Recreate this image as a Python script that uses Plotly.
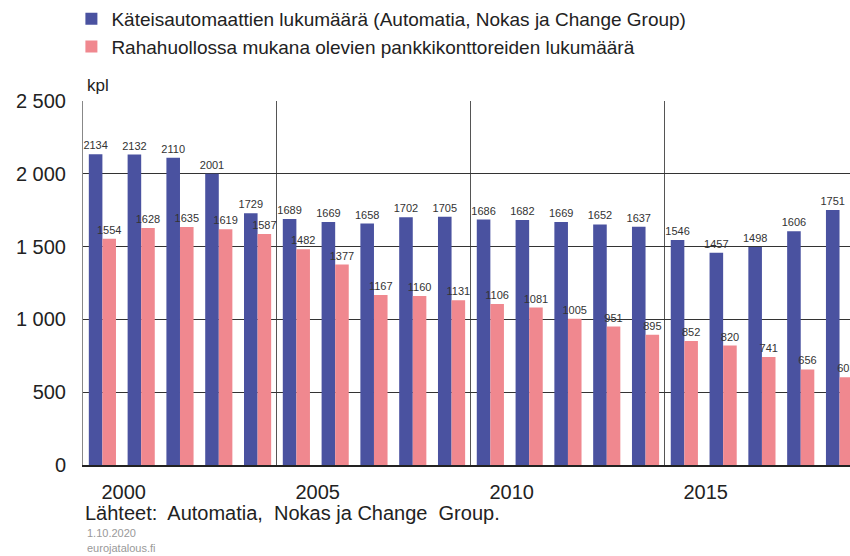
import plotly.graph_objects as go

years = list(range(2000, 2020))
atm_counts = [2134, 2132, 2110, 2001, 1729, 1689, 1669, 1658, 1702, 1705,
              1686, 1682, 1669, 1652, 1637, 1546, 1457, 1498, 1606, 1751]
branch_counts = [1554, 1628, 1635, 1619, 1587, 1482, 1377, 1167, 1160, 1131,
                 1106, 1081, 1005, 951, 895, 852, 820, 741, 656, 603]
series_names = ["Käteisautomaattien lukumäärä (Automatia, Nokas ja Change Group)",
                "Rahahuollossa mukana olevien pankkikonttoreiden lukumäärä"]
x_label_years = [2000, 2005, 2010, 2015]
y_ticks = [0, 500, 1000, 1500, 2000, 2500]
y_tick_text = ["0", "500", "1 000", "1 500", "2 000", "2 500"]

BLUE = "#4A52A0"
PINK = "#F0888F"
FONT = "Liberation Sans, Arial, sans-serif"

fig = go.Figure()
fig.add_trace(go.Bar(x=years, y=atm_counts, name=series_names[0], marker_color=BLUE,
                     marker_line_width=0, text=[str(v) for v in atm_counts],
                     textposition="outside", cliponaxis=False, constraintext="none",
                     textfont=dict(size=11, color="#333333", family=FONT)))
fig.add_trace(go.Bar(x=years, y=branch_counts, name=series_names[1], marker_color=PINK,
                     marker_line_width=0, text=[str(v) for v in branch_counts],
                     textposition="outside", cliponaxis=False, constraintext="none",
                     textfont=dict(size=11, color="#333333", family=FONT)))

fig.update_layout(
    width=850, height=556,
    margin=dict(l=83, r=0, t=101, b=91, autoexpand=False),
    paper_bgcolor="white", plot_bgcolor="white",
    barmode="group", bargap=0.3, bargroupgap=0,
    font=dict(family=FONT, color="#222222"),
    legend=dict(xref="container", yref="container", x=0.084, y=1.0, yanchor="top",
                xanchor="left", font=dict(size=19, color="#222222"),
                bgcolor="rgba(0,0,0,0)", tracegroupgap=0, itemwidth=30),
    showlegend=True,
)
fig.update_xaxes(
    range=[1999.5, 2019.27],
    tickmode="array", tickvals=[y + 0.55 for y in x_label_years],
    ticktext=[str(y) for y in x_label_years], tickangle=0,
    tickfont=dict(size=20, color="#222222"),
    ticks="", showgrid=False, zeroline=False,
    showline=True, linecolor="#222222", linewidth=1.5,
    ticklabelstandoff=8,
    minor=dict(tick0=1999.5, dtick=5, showgrid=True, gridcolor="#555555", gridwidth=1, ticks=""),
)
fig.update_yaxes(
    range=[0, 2500], tickmode="array", tickvals=y_ticks, ticktext=y_tick_text,
    tickfont=dict(size=20, color="#222222"),
    showgrid=True, gridcolor="#333333", gridwidth=1,
    zeroline=False, showline=True, linecolor="#888888", linewidth=1, mirror=True,
    ticklabelstandoff=12,
)

fig.add_annotation(text="kpl", xref="paper", yref="paper", x=0.003, y=1.0, yshift=16,
                   xanchor="left", yanchor="middle", showarrow=False,
                   font=dict(size=17, color="#222222", family=FONT))
fig.add_annotation(text="Lähteet:  Automatia,  Nokas ja Change  Group.", xref="paper", yref="paper",
                   x=0.0, y=0, yshift=-48, xanchor="left", yanchor="middle", showarrow=False,
                   font=dict(size=20, color="#222222", family=FONT))
fig.add_annotation(text="1.10.2020", xref="paper", yref="paper",
                   x=0.003, y=0, yshift=-68, xanchor="left", yanchor="middle", showarrow=False,
                   font=dict(size=11, color="#999999", family=FONT))
fig.add_annotation(text="eurojatalous.fi", xref="paper", yref="paper",
                   x=0.003, y=0, yshift=-83, xanchor="left", yanchor="middle", showarrow=False,
                   font=dict(size=11, color="#999999", family=FONT))

fig.write_html("out.html", config={"displayModeBar": False},
               post_script="document.body.style.margin='0';")
